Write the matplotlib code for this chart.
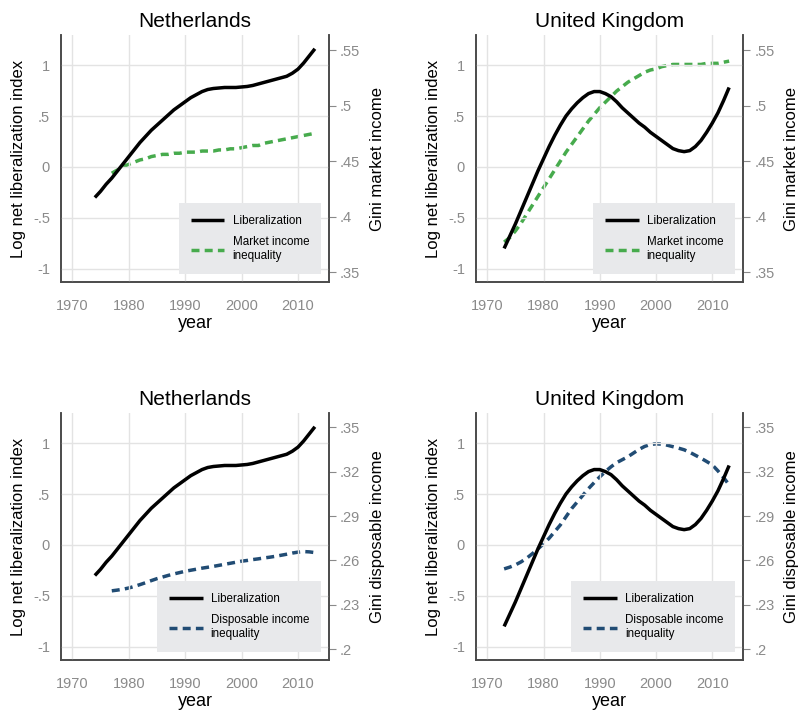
import matplotlib
matplotlib.use("Agg")
import matplotlib.pyplot as plt

plt.rcParams['font.family'] = ['Liberation Sans Narrow', 'Liberation Sans', 'DejaVu Sans']

# liberalization index (log), annual estimates
nl_years = list(range(1974, 2014))
nl_lib = [-0.30, -0.24, -0.17, -0.11, -0.04, 0.03, 0.10, 0.17, 0.24, 0.30,
          0.36, 0.41, 0.46, 0.51, 0.56, 0.60, 0.64, 0.68, 0.71, 0.74,
          0.76, 0.77, 0.775, 0.78, 0.78, 0.78, 0.785, 0.79, 0.80, 0.815,
          0.83, 0.845, 0.86, 0.875, 0.89, 0.92, 0.96, 1.02, 1.09, 1.16]

uk_years = list(range(1973, 2014))
uk_lib = [-0.80, -0.68, -0.56, -0.43, -0.30, -0.17, -0.04, 0.08, 0.20, 0.31,
          0.41, 0.50, 0.57, 0.63, 0.68, 0.72, 0.74, 0.74, 0.72, 0.69,
          0.64, 0.58, 0.53, 0.48, 0.43, 0.39, 0.34, 0.30, 0.26, 0.22,
          0.18, 0.16, 0.15, 0.16, 0.20, 0.26, 0.34, 0.43, 0.53, 0.65, 0.78]

# gini market income
nl_gini_years = list(range(1977, 2014))
nl_mkt = [.439, .442, .445, .447, .449, .451, .452, .454, .455, .456,
          .456, .457, .457, .458, .458, .458, .459, .459, .459, .460,
          .460, .461, .461, .462, .463, .464, .464, .466, .467, .468,
          .469, .470, .471, .472, .473, .474, .475]
uk_mkt = [.377, .381, .387, .394, .402, .410, .418, .426, .434, .442,
          .450, .458, .465, .472, .479, .486, .492, .498, .503, .508,
          .513, .517, .521, .524, .527, .530, .532, .533, .535, .536,
          .537, .537, .537, .537, .537, .537, .538, .538, .538, .539, .540]

# gini disposable income
nl_disp = [.2395, .2400, .2406, .2414, .2425, .2437, .2450, .2464, .2477, .2488,
           .2499, .2509, .2518, .2527, .2534, .2541, .2548, .2554, .2560, .2567,
           .2574, .2581, .2588, .2595, .2600, .2606, .2611, .2617, .2622, .2628,
           .2635, .2642, .2650, .2656, .2660, .2658, .2653]
uk_disp = [.2543, .2555, .2570, .2590, .2615, .2645, .2678, .2712, .2750, .2795,
           .2840, .2895, .2950, .2995, .3040, .3085, .3125, .3164, .3200, .3232,
           .3260, .3280, .3300, .3325, .3350, .3370, .3383, .3387, .3385, .3378,
           .3368, .3358, .3347, .3330, .3310, .3290, .3268, .3245, .3205, .3160, .3110]

left_ticks = [-1, -0.5, 0, 0.5, 1]
left_labels = ['-1', '-.5', '0', '.5', '1']
x_ticks = [1970, 1980, 1990, 2000, 2010]
mkt_ticks = [.35, .4, .45, .5, .55]
mkt_labels = ['.35', '.4', '.45', '.5', '.55']
disp_ticks = [.2, .23, .26, .29, .32, .35]
disp_labels = ['.2', '.23', '.26', '.29', '.32', '.35']

GREEN = '#47ab4d'
BLUE = '#214c74'
GRAY = '#8a8a8a'
SPINE = '#4a4a4a'

fig = plt.figure(figsize=(8, 7.12), dpi=100)

panels = [
    ([0.07625, 0.6039, 0.335, 0.3469], 'Netherlands', nl_years, nl_lib, nl_gini_years, nl_mkt,
     GREEN, 'Market income\ninequality', 'Gini market income', (0.341, 0.5635), mkt_ticks, mkt_labels),
    ([0.595, 0.6039, 0.334, 0.3469], 'United Kingdom', uk_years, uk_lib, uk_years, uk_mkt,
     GREEN, 'Market income\ninequality', 'Gini market income', (0.341, 0.5635), mkt_ticks, mkt_labels),
    ([0.07625, 0.073, 0.335, 0.3469], 'Netherlands', nl_years, nl_lib, nl_gini_years, nl_disp,
     BLUE, 'Disposable income\ninequality', 'Gini disposable income', (0.1928, 0.3595), disp_ticks, disp_labels),
    ([0.595, 0.073, 0.334, 0.3469], 'United Kingdom', uk_years, uk_lib, uk_years, uk_disp,
     BLUE, 'Disposable income\ninequality', 'Gini disposable income', (0.1928, 0.3595), disp_ticks, disp_labels),
]

for rect, title, ly, lv, gy, gv, col, glabel, rlabel, rlim, rticks, rlabels in panels:
    ax = fig.add_axes(rect)
    ax2 = ax.twinx()
    ax.set_zorder(ax2.get_zorder() + 1)
    ax.patch.set_visible(False)

    l1, = ax.plot(ly, lv, color='black', lw=2.5, solid_capstyle='butt', label='Liberalization')
    l2, = ax2.plot(gy, gv, color=col, lw=2.5, ls=(0, (2.3, 1.5)), label=glabel)

    ax.set_xlim(1968, 2015.5)
    ax.set_ylim(-1.13, 1.295)
    ax2.set_ylim(*rlim)
    ax.set_xticks(x_ticks)
    ax.set_yticks(left_ticks)
    ax.set_yticklabels(left_labels)
    ax2.set_yticks(rticks)
    ax2.set_yticklabels(rlabels)

    ax.grid(True, color='#e3e3e3', lw=1)
    ax.tick_params(axis='x', length=0, colors=GRAY, labelsize=10.5, pad=12)
    ax.tick_params(axis='y', length=0, colors=GRAY, labelsize=10.5, pad=8)
    ax2.tick_params(axis='y', length=5, color=GRAY, labelcolor=GRAY, labelsize=10.5, pad=3)

    for a in (ax, ax2):
        a.spines['top'].set_visible(False)
        for s in ('left', 'right', 'bottom'):
            a.spines[s].set_color(SPINE)
            a.spines[s].set_linewidth(1.2)

    ax.set_title(title, fontsize=15, pad=6)
    ax.set_xlabel('year', fontsize=13, labelpad=2)
    ax.set_ylabel('Log net liberalization index', fontsize=12, labelpad=5)
    ax2.set_ylabel(rlabel, fontsize=12, labelpad=7)

    leg = ax.legend(handles=[l1, l2], loc='lower right', fontsize=8.4, frameon=True,
                    facecolor='#e8e9eb', edgecolor='none', fancybox=False, framealpha=1,
                    handlelength=2.9, borderpad=1.0, labelspacing=0.8,
                    borderaxespad=0.7, handletextpad=0.7)

fig.savefig('out.png', dpi=100)
